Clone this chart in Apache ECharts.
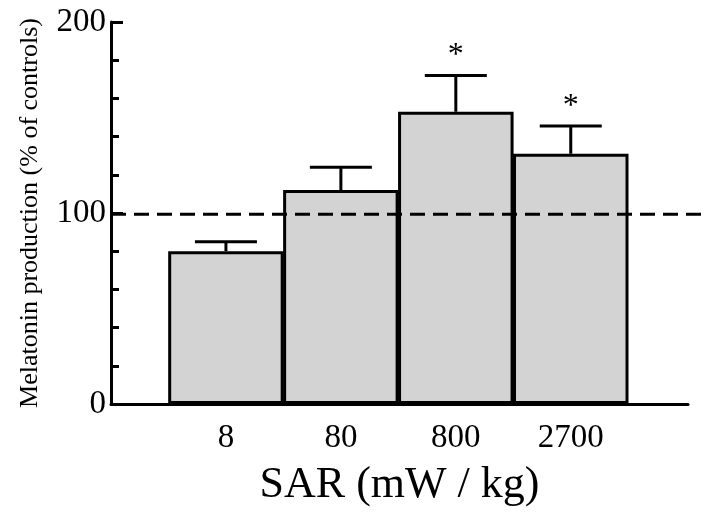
<!DOCTYPE html>
<html>
<head>
<meta charset="utf-8">
<script src="https://cdn.jsdelivr.net/npm/echarts@6/dist/echarts.min.js"></script>
<style>
  html, body { margin: 0; padding: 0; background: #fff; }
  #chart { width: 706px; height: 512px; }
</style>
</head>
<body>
<div id="chart"></div>
<script>
// SAR groups, mean melatonin (% of controls), upper SEM and significance
const categories = ['8', '80', '800', '2700'];
const means = [80, 112, 153, 131];
const upper = [85, 124, 172, 145.5];
const significant = [false, false, true, true];
const controlLevel = 100;
const yTicks = [0, 100, 200];

const font = 'Liberation Serif, Times New Roman, serif';

const barData = means.map((v, i) => [i + 1, v]);
const errData = means.map((v, i) => [i + 1, v, upper[i], significant[i] ? 1 : 0]);

const chart = echarts.init(document.getElementById('chart'));

chart.setOption({
  animation: false,
  grid: [
    { left: 111, right: 18, top: 22, bottom: 105.5 },
    { left: 111, right: 0, top: 22, bottom: 105.5 },
  ],
  xAxis: [
    {
      type: 'value',
      gridIndex: 0,
      min: 0,
      max: 5.02,
      interval: 1,
      name: 'SAR (mW / kg)',
      nameLocation: 'middle',
      nameGap: 59,
      nameTextStyle: { fontFamily: font, fontSize: 44, color: '#000' },
      axisLine: { lineStyle: { color: '#000', width: 3 } },
      axisTick: { show: false },
      splitLine: { show: false },
      axisLabel: {
        fontFamily: font,
        fontSize: 33,
        color: '#000',
        margin: 18,
        formatter: (v) => categories[Math.round(v) - 1] || '',
      },
    },
    { type: 'value', gridIndex: 1, min: 0, max: 1, show: false },
  ],
  yAxis: [
    {
      type: 'value',
      gridIndex: 0,
      min: 0,
      max: 200,
      interval: 100,
      name: 'Melatonin production (% of controls)',
      nameLocation: 'middle',
      nameGap: 68,
      nameTextStyle: { fontFamily: font, fontSize: 26, color: '#000' },
      axisLine: { show: true, lineStyle: { color: '#000', width: 3 } },
      axisTick: { show: true, inside: true, length: 12, lineStyle: { color: '#000', width: 3 } },
      minorTick: { show: true, splitNumber: 5, length: 8, lineStyle: { color: '#000', width: 3 } },
      splitLine: { show: false },
      axisLabel: {
        fontFamily: font,
        fontSize: 33,
        color: '#000',
        margin: 5,
        formatter: (v) => (yTicks.includes(v) ? String(v) : ''),
      },
    },
    { type: 'value', gridIndex: 1, min: 0, max: 200, show: false },
  ],
  series: [
    {
      type: 'bar',
      xAxisIndex: 0,
      yAxisIndex: 0,
      data: barData,
      barWidth: 115.5,
      itemStyle: { color: '#d3d3d3', borderColor: '#000', borderWidth: 3 },
      z: 2,
    },
    {
      type: 'custom',
      xAxisIndex: 0,
      yAxisIndex: 0,
      data: errData,
      z: 3,
      renderItem: (params, api) => {
        const x = api.value(0);
        const base = api.coord([x, api.value(1)]);
        const top = api.coord([x, api.value(2)]);
        const half = 31;
        const style = { stroke: '#000', lineWidth: 3 };
        const children = [
          { type: 'line', shape: { x1: base[0], y1: base[1], x2: top[0], y2: top[1] }, style },
          { type: 'line', shape: { x1: top[0] - half, y1: top[1], x2: top[0] + half, y2: top[1] }, style },
        ];
        if (api.value(3)) {
          children.push({
            type: 'text',
            style: {
              text: '*',
              x: top[0],
              y: top[1] - 4,
              align: 'center',
              verticalAlign: 'bottom',
              font: '32px ' + font,
              fill: '#000',
            },
          });
        }
        return { type: 'group', children };
      },
    },
    {
      type: 'line',
      xAxisIndex: 1,
      yAxisIndex: 1,
      data: [[0, controlLevel], [1, controlLevel]],
      symbol: 'none',
      lineStyle: { color: '#000', width: 3, type: [15, 8] },
      z: 4,
    },
  ],
});
</script>
</body>
</html>
